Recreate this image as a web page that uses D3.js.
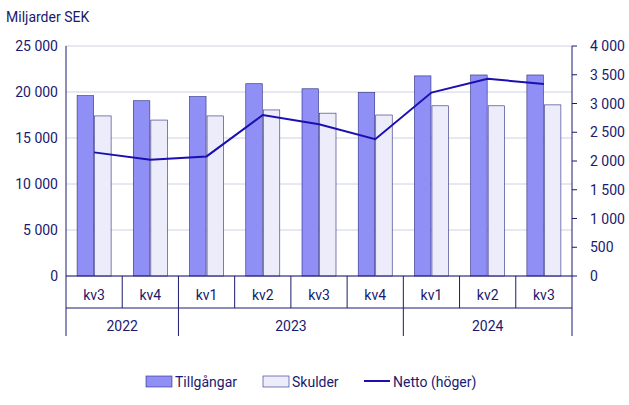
<!DOCTYPE html><html><head><meta charset="utf-8"><script src="https://cdn.jsdelivr.net/npm/d3@7"></script>
<style>body{margin:0;background:#fff}text{font-family:Roboto,sans-serif}</style></head><body><svg id="c" width="629" height="405"></svg>
<script>
const quarters=["kv3","kv4","kv1","kv2","kv3","kv4","kv1","kv2","kv3"];
const years=[{y:"2022",s:0,e:2},{y:"2023",s:2,e:6},{y:"2024",s:6,e:9}];
const tillgangar=[19600,19050,19500,20900,20350,19950,21750,21850,21850];
const skulder=[17400,16950,17400,18050,17700,17500,18500,18500,18600];
const netto=[2150,2020,2080,2800,2640,2380,3190,3430,3340];
const leftTicks=[0,5000,10000,15000,20000,25000];
const rightTicks=[0,500,1000,1500,2000,2500,3000,3500,4000];
const svg=d3.select("#c"),L=66,R=572,T=46,B=276,tc="#1a1a6e";
const fmt=v=>d3.format(",")(v).replace(/,/g," ");
const x=d3.scaleBand().domain(d3.range(9)).range([L,R]);
const yl=d3.scaleLinear().domain([0,25000]).range([B,T]);
const yr=d3.scaleLinear().domain([0,4000]).range([B,T]);
svg.append("text").attr("x",6).attr("y",22).attr("fill",tc).attr("font-size",14).text("Miljarder SEK");
leftTicks.forEach(t=>{svg.append("line").attr("x1",L).attr("x2",R).attr("y1",yl(t)).attr("y2",yl(t)).attr("stroke","#d0d0e6");
svg.append("text").attr("x",L-8).attr("y",yl(t)+5).attr("text-anchor","end").attr("fill",tc).attr("font-size",14).text(fmt(t));});
rightTicks.forEach(t=>{svg.append("line").attr("x1",R).attr("x2",R+5).attr("y1",yr(t)).attr("y2",yr(t)).attr("stroke",tc);
svg.append("text").attr("x",R+18).attr("y",yr(t)+5).attr("fill",tc).attr("font-size",14).text(fmt(t));});
const bw=16.5;
quarters.forEach((q,i)=>{const cx=x(i)+x.bandwidth()/2;
svg.append("rect").attr("x",cx-bw-0.5).attr("y",yl(tillgangar[i])).attr("width",bw).attr("height",B-yl(tillgangar[i])).attr("fill","#8f8ff5").attr("stroke","#2a2a80").attr("stroke-width",0.6);
svg.append("rect").attr("x",cx+0.5).attr("y",yl(skulder[i])).attr("width",bw).attr("height",B-yl(skulder[i])).attr("fill","#ececfb").attr("stroke","#2a2a80").attr("stroke-width",0.6);
svg.append("text").attr("x",cx).attr("y",300).attr("text-anchor","middle").attr("fill",tc).attr("font-size",14).text(q);});
svg.append("line").attr("x1",L).attr("x2",L).attr("y1",T).attr("y2",336).attr("stroke",tc);
svg.append("line").attr("x1",R).attr("x2",R).attr("y1",T).attr("y2",336).attr("stroke",tc);
svg.append("line").attr("x1",L).attr("x2",R).attr("y1",B).attr("y2",B).attr("stroke",tc);
d3.range(1,9).forEach(i=>{const big=years.some(y=>y.s===i);svg.append("line").attr("x1",x(i)).attr("x2",x(i)).attr("y1",B).attr("y2",big?336:308).attr("stroke",tc);});
svg.append("line").attr("x1",L).attr("x2",R).attr("y1",308).attr("y2",308).attr("stroke",tc);
years.forEach(y=>svg.append("text").attr("x",(x(y.s)+x(y.e-1)+x.bandwidth())/2).attr("y",331).attr("text-anchor","middle").attr("fill",tc).attr("font-size",14).text(y.y));
svg.append("path").datum(netto).attr("d",d3.line().x((d,i)=>x(i)+x.bandwidth()/2).y(d=>yr(d))).attr("fill","none").attr("stroke","#1a0fb0").attr("stroke-width",2);
const lg=svg.append("g").attr("font-size",14).attr("fill",tc);
lg.append("rect").attr("x",146).attr("y",376).attr("width",26).attr("height",11).attr("fill","#8f8ff5").attr("stroke","#2a2a80").attr("stroke-width",0.6);
lg.append("text").attr("x",175).attr("y",387).text("Tillgångar");
lg.append("rect").attr("x",263).attr("y",376).attr("width",26).attr("height",11).attr("fill","#ececfb").attr("stroke","#2a2a80").attr("stroke-width",0.6);
lg.append("text").attr("x",292).attr("y",387).text("Skulder");
lg.append("line").attr("x1",364).attr("x2",390).attr("y1",381).attr("y2",381).attr("stroke","#1a0fb0").attr("stroke-width",2);
lg.append("text").attr("x",393).attr("y",387).text("Netto (höger)");
</script></body></html>
